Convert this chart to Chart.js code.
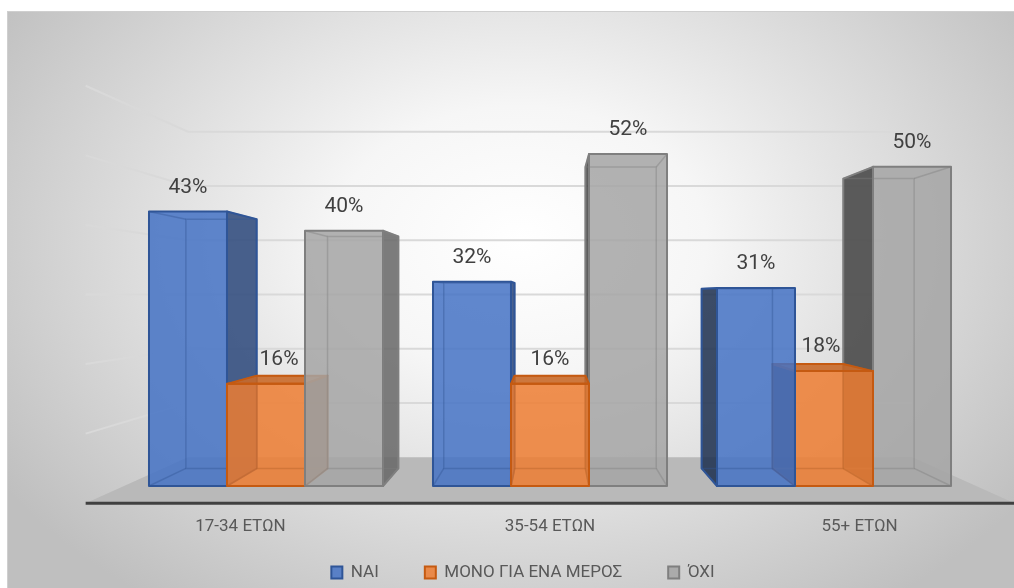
<!DOCTYPE html>
<html>
<head>
<meta charset="utf-8">
<script src="https://cdn.jsdelivr.net/npm/chart.js@4.4.1/dist/chart.umd.min.js"></script>
<style>
    html, body { margin: 0; padding: 0; background: #fff; }
    canvas { display: block; }
</style>
</head>
<body>
<canvas id="chart" width="1014" height="588"></canvas>
<script>
const labels = ['17-34 ΕΤΩΝ', '35-54 ΕΤΩΝ', '55+ ΕΤΩΝ'];
const seriesNames = ['ΝΑΙ', 'ΜΟΝΟ ΓΙΑ ΕΝΑ ΜΕΡΟΣ', 'ΌΧΙ'];
const yesValues = [43, 32, 31];
const partlyValues = [16, 16, 18];
const noValues = [40, 52, 50];
const yTicks = [0, 10, 20, 30, 40, 50, 60];

const baseColors = [[68, 114, 196], [237, 125, 49], [165, 165, 165]];
const edgeColors = ['#2F5597', '#C55A11', '#7F7F7F'];
// how far the value label slides back over the top face
const labelShift = [0, 0.5, 0];

// depth of the scene, as scale factors towards the vanishing point
const BAR_BACK = 0.908;
const WALL_BACK = 0.85;
const FLOOR_FRONT = 1.09;

const FONT = 'Roboto, "Noto Sans", sans-serif';

function rgba(c, k, a) {
    return `rgba(${Math.round(c[0] * k)},${Math.round(c[1] * k)},${Math.round(c[2] * k)},${a})`;
}

function poly(ctx, pts) {
    ctx.beginPath();
    ctx.moveTo(pts[0][0], pts[0][1]);
    for (let i = 1; i < pts.length; i++) ctx.lineTo(pts[i][0], pts[i][1]);
    ctx.closePath();
}

const background = {
    id: 'background',
    beforeDraw(chart) {
        const ctx = chart.ctx;
        ctx.save();
        ctx.fillStyle = '#fff';
        ctx.fillRect(0, 0, chart.width, chart.height);
        ctx.beginPath();
        ctx.rect(7, 11, chart.width - 7, chart.height - 11);
        ctx.clip();
        ctx.translate(520, 240);
        ctx.scale(1, 0.72);
        const g = ctx.createRadialGradient(0, 0, 0, 0, 0, 620);
        g.addColorStop(0, '#ffffff');
        g.addColorStop(0.3, '#f6f6f6');
        g.addColorStop(1, '#bfbfbf');
        ctx.fillStyle = g;
        ctx.fillRect(-1200, -1200, 2400, 2400);
        ctx.restore();
        ctx.save();
        ctx.strokeStyle = '#cfcfcf';
        ctx.lineWidth = 1;
        ctx.strokeRect(7.5, 11.5, chart.width, chart.height);
        ctx.restore();
    }
};

// walls, floor and the 3d boxes, drawn from the scales instead of the flat bars
const scene = {
    id: 'scene',
    beforeDatasetsDraw(chart) {
        const {ctx, chartArea, scales: {x, y}} = chart;
        const vx = (chartArea.left + chartArea.right) / 2;
        const vy = (chartArea.top + chartArea.bottom) / 2;
        const p = (px, py, s) => [vx + (px - vx) * s, vy + (py - vy) * s];
        const L = chartArea.left, R = chartArea.right, B = y.getPixelForValue(0);

        ctx.save();

        // floor
        poly(ctx, [p(L, B, WALL_BACK), p(R, B, WALL_BACK), p(R, B, FLOOR_FRONT), p(L, B, FLOOR_FRONT)]);
        ctx.fillStyle = '#b9b9b9';
        ctx.fill();

        // side wall + back wall gridlines
        ctx.strokeStyle = '#d9d9d9';
        ctx.lineWidth = 2;
        yTicks.forEach(v => {
            if (v === 0) return;
            const py = y.getPixelForValue(v);
            const a = p(L, py, FLOOR_FRONT), b = p(L, py, WALL_BACK), c = p(R, py, WALL_BACK);
            ctx.beginPath();
            ctx.moveTo(a[0], a[1]);
            ctx.lineTo(b[0], b[1]);
            ctx.lineTo(c[0], c[1]);
            ctx.stroke();
        });

        // category axis line along the front of the floor
        const fl = p(L, B, FLOOR_FRONT), fr = p(R, B, FLOOR_FRONT);
        ctx.strokeStyle = '#404040';
        ctx.lineWidth = 3;
        ctx.beginPath();
        ctx.moveTo(fl[0], fl[1]);
        ctx.lineTo(fr[0], fr[1]);
        ctx.stroke();

        // boxes, outermost first so the inner ones cover their side faces
        const bars = [];
        chart.data.datasets.forEach((ds, i) => {
            chart.getDatasetMeta(i).data.forEach((el, j) => {
                bars.push({i, j, el, value: ds.data[j]});
            });
        });
        bars.sort((a, b) => Math.abs(b.el.x - vx) - Math.abs(a.el.x - vx));

        bars.forEach(({i, el}) => {
            const c = baseColors[i];
            const l = el.x - el.width / 2, r = el.x + el.width / 2;
            const top = el.y, base = el.base;
            const f = {tl: [l, top], tr: [r, top], br: [r, base], bl: [l, base]};
            const k = {tl: p(l, top, BAR_BACK), tr: p(r, top, BAR_BACK), br: p(r, base, BAR_BACK), bl: p(l, base, BAR_BACK)};

            ctx.lineJoin = 'round';
            let side = null;
            if (r <= vx) {
                side = [f.tr, k.tr, k.br, f.br];
                poly(ctx, side);
                ctx.fillStyle = rgba(c, 0.62, 0.85);
                ctx.fill();
            } else if (l >= vx) {
                side = [f.tl, k.tl, k.bl, f.bl];
                poly(ctx, side);
                ctx.fillStyle = rgba(c, 0.4, 0.85);
                ctx.fill();
            }
            let lid = null;
            if (top > vy) {
                lid = [f.tl, f.tr, k.tr, k.tl];
                poly(ctx, lid);
                ctx.fillStyle = rgba(c, 0.85, 0.9);
                ctx.fill();
            }

            poly(ctx, [f.tl, f.tr, f.br, f.bl]);
            ctx.fillStyle = rgba(c, 1, 0.85);
            ctx.fill();

            // hidden edges showing through the glassy faces
            ctx.strokeStyle = rgba(c, 0.75, 0.4);
            ctx.lineWidth = 1.5;
            poly(ctx, [k.tl, k.tr, k.br, k.bl]);
            ctx.stroke();
            ctx.beginPath();
            ['tl', 'tr', 'br', 'bl'].forEach(n => {
                ctx.moveTo(f[n][0], f[n][1]);
                ctx.lineTo(k[n][0], k[n][1]);
            });
            ctx.stroke();

            ctx.strokeStyle = edgeColors[i];
            ctx.lineWidth = 2;
            if (side) { poly(ctx, side); ctx.stroke(); }
            if (lid) { poly(ctx, lid); ctx.stroke(); }
            poly(ctx, [f.tl, f.tr, f.br, f.bl]);
            ctx.stroke();
        });

        // value labels
        ctx.fillStyle = '#404040';
        ctx.font = `21px ${FONT}`;
        ctx.textAlign = 'center';
        ctx.textBaseline = 'middle';
        bars.forEach(({i, el, value}) => {
            const back = p(el.x, el.y, BAR_BACK);
            const lx = el.x + (back[0] - el.x) * labelShift[i];
            ctx.fillText(value + '%', lx, el.y - 24);
        });

        // category labels at the front edge of the floor
        ctx.fillStyle = '#595959';
        ctx.font = `17px ${FONT}`;
        labels.forEach((lab, j) => {
            const pt = p(x.getPixelForValue(j), B, FLOOR_FRONT);
            ctx.fillText(lab, pt[0], 527);
        });

        ctx.restore();
        return false;
    }
};

new Chart(document.getElementById('chart'), {
    type: 'bar',
    data: {
        labels,
        datasets: [yesValues, partlyValues, noValues].map((values, i) => ({
            label: seriesNames[i],
            data: values,
            backgroundColor: rgba(baseColors[i], 1, 0.85),
            borderColor: edgeColors[i],
            borderWidth: 2,
            barPercentage: 1,
            categoryPercentage: 0.824
        }))
    },
    options: {
        responsive: false,
        animation: false,
        events: [],
        layout: {
            padding: {left: 70, right: 38, top: 103, bottom: -3}
        },
        plugins: {
            legend: {
                position: 'bottom',
                labels: {
                    boxWidth: 11,
                    boxHeight: 12,
                    padding: 46,
                    color: '#595959',
                    font: {family: FONT, size: 17}
                }
            },
            tooltip: {enabled: false}
        },
        scales: {
            x: {
                ticks: {display: false},
                grid: {display: false},
                border: {display: false},
                afterFit(scale) { scale.height = 32; }
            },
            y: {
                min: yTicks[0],
                max: yTicks[yTicks.length - 1],
                ticks: {display: false, stepSize: 10},
                grid: {display: false},
                border: {display: false},
                afterFit(scale) { scale.width = 54; }
            }
        }
    },
    plugins: [background, scene]
});
</script>
</body>
</html>
